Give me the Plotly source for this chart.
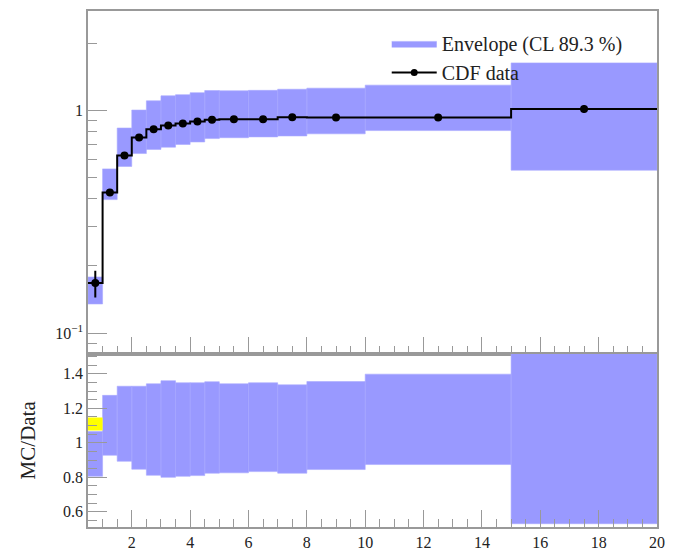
import plotly.graph_objects as go

# ---- data ----
bin_lo = [0.5, 1.0, 1.5, 2.0, 2.5, 3.0, 3.5, 4.0, 4.5, 5.0, 6.0, 7.0, 8.0, 10.0, 15.0]
bin_hi = [1.0, 1.5, 2.0, 2.5, 3.0, 3.5, 4.0, 4.5, 5.0, 6.0, 7.0, 8.0, 10.0, 15.0, 20.0]
x_center = [0.75, 1.25, 1.75, 2.25, 2.75, 3.25, 3.75, 4.25, 4.75, 5.5, 6.5, 7.5, 9.0, 12.5, 17.5]
cdf_data = [0.1675, 0.428, 0.627, 0.755, 0.822, 0.854, 0.872, 0.890, 0.906, 0.912, 0.912, 0.931, 0.928, 0.928, 1.014]
cdf_err = [0.023, 0.01, 0.01, 0.008, 0.008, 0.008, 0.008, 0.008, 0.008, 0.008, 0.008, 0.008, 0.008, 0.01, 0.04]
ratio_lo = [0.806, 0.928, 0.893, 0.847, 0.812, 0.800, 0.806, 0.810, 0.824, 0.826, 0.833, 0.824, 0.845, 0.874, 0.531]
ratio_hi = [1.065, 1.275, 1.328, 1.328, 1.342, 1.360, 1.348, 1.348, 1.354, 1.342, 1.348, 1.336, 1.355, 1.398, 1.610]
yellow_lo_edge = [0.5]
yellow_hi_edge = [1.0]
yellow_lo = [1.072]
yellow_hi = [1.146]

FONT = "Liberation Serif"
BAND = "#9999ff"
AXC = "#999999"

def rects(lo_e, hi_e, lows, highs):
    xs, ys = [], []
    for a, b, l, h in zip(lo_e, hi_e, lows, highs):
        xs += [a, b, b, a, a, None]
        ys += [l, l, h, h, l, None]
    return xs, ys

env_lo = [d * r for d, r in zip(cdf_data, ratio_lo)]
env_hi = [d * r for d, r in zip(cdf_data, ratio_hi)]

fig = go.Figure()

ex, ey = rects(bin_lo, bin_hi, env_lo, env_hi)
fig.add_trace(go.Scatter(x=ex, y=ey, mode="lines", fill="toself", fillcolor=BAND,
                         line=dict(color="#aaaaff", width=0.6),
                         name="Envelope (CL 89.3 %)", xaxis="x", yaxis="y"))

# step line
step_x = bin_lo + [bin_hi[-1]]
step_y = cdf_data + [cdf_data[-1]]
fig.add_trace(go.Scatter(x=step_x, y=step_y, mode="lines", line=dict(color="black", width=2, shape="hv"),
                         showlegend=False, xaxis="x", yaxis="y", hoverinfo="skip"))
fig.add_trace(go.Scatter(x=x_center, y=cdf_data, mode="markers",
                         marker=dict(color="black", size=8),
                         error_y=dict(type="data", array=cdf_err, color="black", thickness=2, width=0),
                         showlegend=False, xaxis="x", yaxis="y"))
# legend entry for line+marker
fig.add_trace(go.Scatter(x=[None], y=[None], mode="lines+markers", line=dict(color="black", width=2),
                         marker=dict(color="black", size=7), name="CDF data", xaxis="x", yaxis="y"))

# ratio panel
rx, ry = rects(bin_lo, bin_hi, ratio_lo, ratio_hi)
fig.add_trace(go.Scatter(x=rx, y=ry, mode="lines", fill="toself", fillcolor=BAND,
                         line=dict(color="#aaaaff", width=0.6), showlegend=False,
                         xaxis="x2", yaxis="y2"))
yx, yy = rects(yellow_lo_edge, yellow_hi_edge, yellow_lo, yellow_hi)
fig.add_trace(go.Scatter(x=yx, y=yy, mode="lines", fill="toself", fillcolor="#ffff00",
                         line=dict(color="#ffff00", width=0), showlegend=False,
                         xaxis="x2", yaxis="y2"))

minor_log = [0.08, 0.09] + [k / 10 for k in range(2, 10)] + [2.0]
xmajor = [2, 4, 6, 8, 10, 12, 14, 16, 18, 20]
xminor = [v / 2 for v in range(1, 41)]

common_x = dict(range=[0.5, 20], showgrid=False, zeroline=False, showline=True, linecolor=AXC,
                linewidth=1.5, mirror=True, ticks="inside", tickcolor=AXC, ticklen=17, tickwidth=1.2,
                tickvals=xmajor,
                minor=dict(tickvals=xminor, ticklen=8, tickcolor=AXC, tickwidth=1, ticks="inside"))

fig.update_layout(
    width=674, height=560,
    margin=dict(l=88, r=12, t=9, b=33),
    paper_bgcolor="white", plot_bgcolor="white",
    font=dict(family=FONT, size=16, color="#222222"),
    showlegend=True,
    legend=dict(x=0.525, y=0.975, xanchor="left", yanchor="top", bgcolor="rgba(0,0,0,0)",
                font=dict(family=FONT, size=20), tracegroupgap=0, itemwidth=45),
    xaxis=dict(common_x, domain=[0, 1], anchor="y", showticklabels=False),
    yaxis=dict(type="log", range=[-1.0926, 0.446], domain=[0.336, 1], anchor="x",
               showgrid=False, zeroline=False, showline=True, linecolor=AXC, linewidth=1.5, mirror=True,
               ticks="inside", tickcolor=AXC, ticklen=19, tickwidth=1.2,
               tickvals=[0.1, 1], ticktext=["10<sup>−1</sup>", "1"],
               minor=dict(tickvals=minor_log, ticklen=9, tickcolor=AXC, tickwidth=1, ticks="inside")),
    xaxis2=dict(common_x, domain=[0, 1], anchor="y2", showticklabels=True, ticktext=[str(v) for v in xmajor]),
    yaxis2=dict(range=[0.512, 1.517], domain=[0, 0.336], anchor="x2",
                showgrid=False, zeroline=False, showline=True, linecolor=AXC, linewidth=1.5, mirror=True,
                ticks="inside", tickcolor=AXC, ticklen=19, tickwidth=1.2,
                tickvals=[0.6, 0.8, 1.0, 1.2, 1.4], ticktext=["0.6", "0.8", "1", "1.2", "1.4"],
                minor=dict(dtick=0.05, tick0=0, ticklen=9, tickcolor=AXC, tickwidth=1, ticks="inside"),
                title=dict(text="MC/Data", font=dict(family=FONT, size=21), standoff=22)),
)

fig.write_html("out.html")
